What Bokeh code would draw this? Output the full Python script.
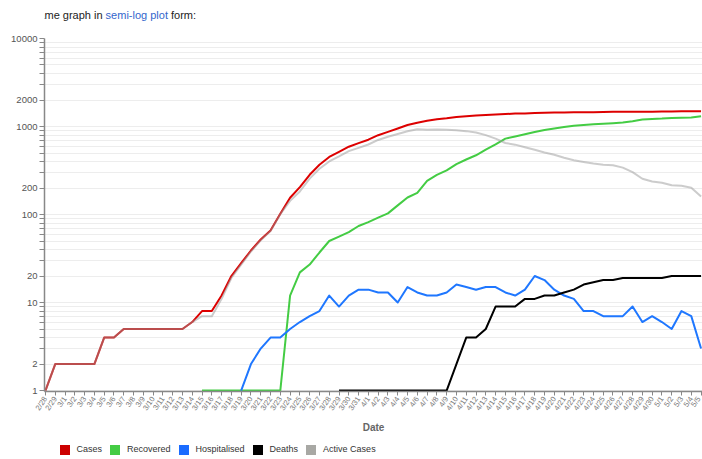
import math
import datetime

from bokeh.plotting import figure
from bokeh.models import (Range1d, FixedTicker, NumeralTickFormatter, Legend,
                          LegendItem, Label, ColumnDataSource)
from bokeh.layouts import column
from bokeh.embed import file_html
from bokeh.resources import INLINE

NaN = float("nan")

# One entry per reporting day, starting 28 February 2020
start_date = datetime.date(2020, 2, 28)
n_days = 68
date_labels = [f"{d.month}/{d.day}" for d in
               (start_date + datetime.timedelta(days=i) for i in range(n_days))]

cases = [1, 2, 2, 2, 2, 2, 4, 4, 5, 5, 5, 5, 5, 5, 5, 6, 8, 8, 12, 20,
         28, 39, 52, 66, 102, 155, 205, 283, 368, 451, 514, 589, 647, 708, 797, 868,
         950, 1039, 1106, 1160, 1210, 1239, 1283, 1312, 1330, 1349, 1366, 1386, 1401, 1409,
         1422, 1431, 1440, 1445, 1448, 1451, 1456, 1461, 1470, 1470, 1472, 1474, 1476, 1479,
         1485, 1487, 1487, 1488]

recovered = [NaN] * 16 + [1, 1, 1, 1, 1, 1, 1, 1, 1,
             12, 22, 27, 37, 50, 56, 63, 74, 82, 92, 103, 127, 156, 176, 241,
             282, 317, 373, 422, 471, 546, 628, 728, 770, 816, 867, 912,
             950, 990, 1020, 1040, 1060, 1075, 1090, 1110, 1150,
             1200, 1220, 1230, 1250, 1255, 1265, 1308]

hospitalised = [NaN] * 20 + [1, 2, 3, 4, 4, 5, 6, 7, 8, 12, 9, 12, 14, 14, 13, 13,
                10, 15, 13, 12, 12, 13, 16, 15, 14, 15, 15, 13, 12, 14, 20, 18,
                14, 12, 11, 8, 8, 7, 7, 7, 9, 6, 7, 6, 5, 8, 7, 3]

deaths = [NaN] * 30 + [1] * 12 + [2, 4, 4, 5, 9, 9, 9, 11, 11, 12, 12, 13, 14,
          16, 17, 18, 18, 19, 19, 19, 19, 19, 20, 20, 20, 20]

active = [1, 2, 2, 2, 2, 2, 4, 4, 5, 5, 5, 5, 5, 5, 5, 6, 7, 7, 11, 19,
          27, 38, 51, 65, 101, 143, 183, 256, 331, 401, 457, 525, 572, 625, 704, 764,
          822, 882, 929, 918, 927, 921, 908, 886, 855, 798, 729, 649, 622, 582,
          544, 507, 478, 442, 414, 395, 379, 368, 362, 341, 303, 255, 237, 230,
          215, 212, 202, 160]

series = [
    ("Cases", cases, "#dd0000", "#cc0000", 1.0),
    ("Recovered", recovered, "#44cc44", "#44cc44", 1.0),
    ("Hospitalised", hospitalised, "#1f77ff", "#1a6cff", 1.0),
    ("Deaths", deaths, "#000000", "#000000", 1.0),
    ("Active Cases", active, "#999999", "#a8a8a4", 0.5),
]

y_major = [1, 2, 10, 20, 100, 200, 1000, 2000, 10000]
y_minor = [3, 4, 5, 6, 7, 8, 9, 30, 40, 50, 60, 70, 80, 90,
           300, 400, 500, 600, 700, 800, 900, 3000, 4000, 5000, 6000, 7000, 8000, 9000]

FONT = "Liberation Sans"
W = 702
TOP_H, MAIN_H, KEY_H = 30, 408, 21
LEFT = 44  # width of the left border holding the y axis
idx = list(range(n_days))


def strip(height):
    """A bare figure whose frame fills it, used for the text rows."""
    f = figure(width=W, height=height, x_range=Range1d(0, W), y_range=Range1d(0, height),
               output_backend="svg", toolbar_location=None,
               x_axis_location=None, y_axis_location=None,
               min_border_left=0, min_border_right=0, min_border_top=0,
               min_border_bottom=0, outline_line_color=None,
               background_fill_color="white", border_fill_color="white")
    f.xgrid.visible = False
    f.ygrid.visible = False
    return f


# ---- intro sentence -------------------------------------------------------
top = strip(TOP_H)
intro_parts = [("Same graph in", -13.45, "#222222"),
               ("semi-log plot", 61.1, "#3366cc"),
               ("form:", 126.5, "#222222")]
for txt, sx, col in intro_parts:
    top.add_layout(Label(x=sx, y=TOP_H - 14, x_units="screen", y_units="screen",
                         text=txt, text_font=FONT, text_font_size="11px",
                         text_color=col, text_baseline="middle", text_align="left"))

# ---- main chart -------------------------------------------------------------
p = figure(width=W, height=MAIN_H,
           x_range=Range1d(-0.098, 67.147), y_range=Range1d(0.975, 10000),
           y_axis_type="log", output_backend="svg", toolbar_location=None,
           min_border_left=LEFT, min_border_right=0, min_border_top=8,
           min_border_bottom=47, outline_line_color=None,
           background_fill_color="white", border_fill_color="white")

y_ticker = FixedTicker(ticks=y_major, minor_ticks=y_minor)
p.yaxis.ticker = y_ticker
p.ygrid.ticker = y_ticker
p.yaxis.formatter = NumeralTickFormatter(format="0")
p.ygrid.grid_line_color = "#ededed"
p.ygrid.minor_grid_line_color = "#ededed"
p.xgrid.visible = False

p.xaxis.ticker = FixedTicker(ticks=idx, minor_ticks=[])
p.xaxis.major_label_overrides = {i: lab for i, lab in enumerate(date_labels)}
p.xaxis.major_label_orientation = math.radians(55)
p.xaxis.axis_label = "Date"
p.xaxis.axis_label_text_font = FONT
p.xaxis.axis_label_text_font_style = "bold"
p.xaxis.axis_label_text_font_size = "10px"
p.xaxis.axis_label_text_color = "#666666"
p.xaxis.axis_label_standoff = 4

for ax in (p.xaxis[0], p.yaxis[0]):
    ax.axis_line_color = "#888888"
    ax.axis_line_width = 1.5
    ax.major_tick_line_color = "#888888"
    ax.minor_tick_line_color = "#888888"
    ax.major_tick_in = 0
    ax.major_tick_out = 5
    ax.minor_tick_in = 0
    ax.minor_tick_out = 5
    ax.major_label_text_font = FONT
    ax.major_label_standoff = 2

p.yaxis.major_label_text_font_size = "9.5px"
p.yaxis.major_label_text_color = "#555555"
p.xaxis.major_label_text_font_size = "7.5px"
p.xaxis.major_label_text_color = "#777777"
p.xaxis.major_tick_out = 4

# ---- legend row -------------------------------------------------------------
keys = strip(KEY_H)
items = []
for name, vals, line_col, key_col, alpha in series:
    src = ColumnDataSource(data=dict(x=idx, y=vals))
    p.line("x", "y", source=src, line_color=line_col, line_width=2,
           line_alpha=alpha, line_join="round")
    # zero-size square markers supply the legend swatch
    key = keys.scatter("x", "y", source=src, marker="square", size=0,
                       fill_color=key_col, line_color=None)
    items.append(LegendItem(label=name, renderers=[key]))

legend = Legend(items=items, orientation="horizontal", location=(7.5, -2.5),
                glyph_width=25, glyph_height=25, label_height=12,
                label_standoff=0, spacing=0, padding=0, margin=0,
                border_line_color=None, background_fill_alpha=0,
                label_text_font=FONT, label_text_font_size="9px",
                label_text_color="#333333")
keys.add_layout(legend)

page = column(top, p, keys, spacing=0)

open("out.html", "w").write(file_html(page, INLINE))
